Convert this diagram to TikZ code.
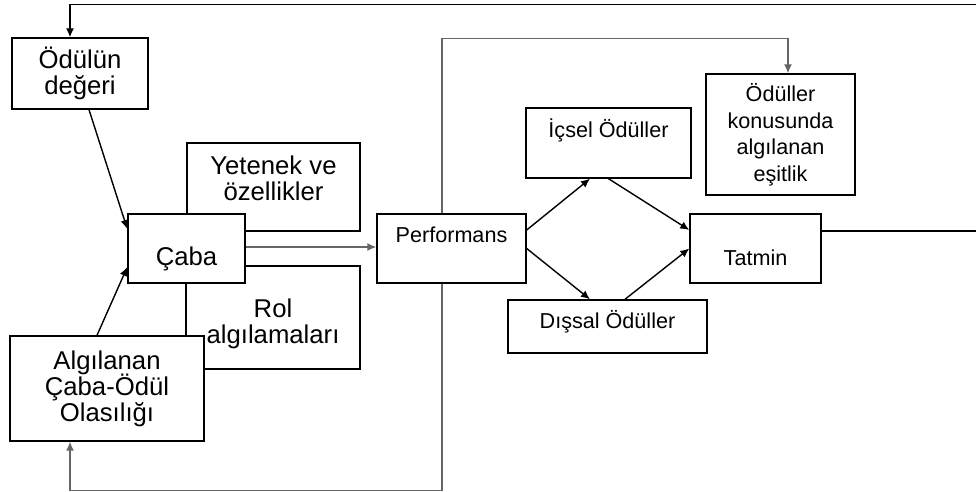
\documentclass[tikz,border=0pt]{standalone}
\usepackage{fontspec}
\setmainfont{Liberation Sans}
\usetikzlibrary{arrows.meta}

\begin{document}
\lineskiplimit=-100pt
\begin{tikzpicture}[x=1pt,y=-1pt,line width=1.4pt,>={Latex[length=9pt,width=8pt]}]
    \tikzstyle{every node}=[font=\fontsize{21.6pt}{26.5pt}\selectfont,align=center];
    \tikzstyle{bx}=[draw,fill=white,inner sep=2pt];
    \tikzstyle{big}=[font=\fontsize{25.7pt}{26pt}\selectfont];
    \tikzstyle{lowtxt}=[text height=33pt,text depth=0pt];
    \tikzstyle{hightxt}=[text height=0pt,text depth=11.6pt];
    \tikzstyle{midtxt}=[text height=4.4pt,text depth=0pt];
    \tikzstyle{gl}=[draw=black!60];

    \useasboundingbox (0,0) rectangle (976,492);

    \node[bx,big,minimum width=173pt,minimum height=88pt] (yet) at (273.5,187) {Yetenek ve\\özellikler\\[-9pt]\mbox{}};
    \node[bx,big,minimum width=174pt,minimum height=103pt] (rol) at (273,317.5) {\mbox{}\\[6pt]Rol\\algılamaları};
    \node[bx,big,lowtxt,minimum width=117pt,minimum height=69pt] (caba) at (186.5,248.5) {Çaba};
    \node[bx,big,minimum width=194pt,minimum height=105pt] (algi) at (107,388.5) {Algılanan\\Çaba-Ödül\\Olasılığı};
    \node[bx,big,minimum width=136pt,minimum height=71pt] (odul) at (80,73.5) {Ödülün\\değeri};

    \node[bx,hightxt,minimum width=149pt,minimum height=69pt] (perf) [right of=caba, node distance=265pt] {Performans};
    \node[bx,lowtxt,minimum width=131pt,minimum height=69pt] (tat) [right of=perf, node distance=304pt] {Tatmin};
    \node[bx,hightxt,minimum width=165pt,minimum height=70pt] (icsel) at (608.5,143) {İçsel Ödüller};
    \node[bx,midtxt,minimum width=199pt,minimum height=53pt] (dissal) at (607.5,326.5) {Dışsal Ödüller};
    \node[bx,minimum width=149pt,minimum height=121pt] (esit) at (780.5,134.5) {Ödüller\\konusunda\\algılanan\\eşitlik};

    \coordinate (ne) at (980,4.5);

    \draw[->] ([yshift=17.5pt]tat.east) -| (ne) -| ([xshift=-10pt]odul.north);
    \draw[->,gl] ([xshift=-9.5pt]perf.south) -- ++(0,207) -| ([xshift=-37pt]algi.south);
    \draw[->,gl] ([xshift=-9.5pt]perf.north) -- ++(0,-175) -| ([xshift=7.5pt]esit.north);
    \draw[->] ([xshift=9pt]odul.south) -- ([yshift=19.5pt]caba.west);
    \draw[->] ([xshift=-10pt]algi.north) -- ([yshift=-18.5pt]caba.west);
    \draw[->,gl] ([yshift=1.5pt]caba.east) -- ([yshift=1.5pt]perf.west);
    \draw[->] ([yshift=18.5pt]perf.east) -- ([xshift=-18.5pt]icsel.south);
    \draw[->] (icsel.south) -- ([yshift=18.5pt]tat.west);
    \draw[->] (perf.east) -- ([xshift=-17.5pt]dissal.north);
    \draw[->] ([xshift=17.5pt]dissal.north) -- (tat.west);

\end{tikzpicture}
\end{document}
